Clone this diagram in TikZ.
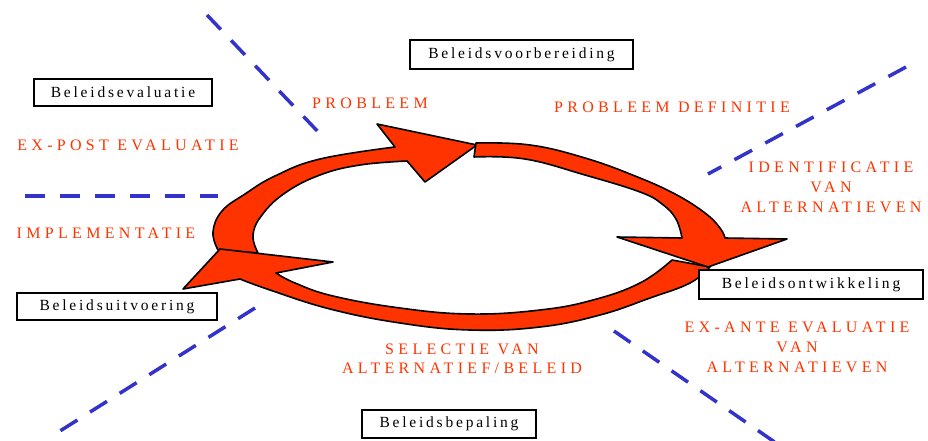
\documentclass[tikz,border=0pt]{standalone}
\usepackage{fontspec}
\setmainfont{Liberation Serif}
\newfontfamily\boxfont[LetterSpace=18]{Liberation Serif}
\newfontfamily\stagefont[LetterSpace=27]{Liberation Serif}
\definecolor{arrowred}{HTML}{FF3300}
\definecolor{dashblue}{HTML}{3333CC}
\tikzset{
  ring/.style={fill=arrowred, draw=black, line width=1.6pt, line join=round},
  phasebox/.style={draw=black, fill=white, line width=1.6pt, inner sep=0pt,
    font=\boxfont\fontsize{15.5}{17}\selectfont, text=black},
  stage/.style={text=arrowred, align=center, inner sep=0pt,
    font=\stagefont\fontsize{16}{20}\selectfont},
  divider/.style={draw=dashblue, line width=3.5pt, dash pattern=on 20pt off 15pt},
}
\begin{document}
\begin{tikzpicture}[x=1pt,y=-1pt]
\useasboundingbox (0,0) rectangle (928,441);

% dashed dividers between the phases
\coordinate (d1a) at (207,15);  \coordinate (d1b) at (323,137);
\coordinate (d2a) at (25,196);  \coordinate (d2b) at (218,196);
\coordinate (d3a) at (60,431);  \coordinate (d3b) at (255,308);
\coordinate (d4a) at (906,67);  \coordinate (d4b) at (708,174);
\coordinate (d5a) at (614,331); \coordinate (d5b) at (776,443);
\draw[divider] (d1a) -- (d1b);
\draw[divider] (d2a) -- (d2b);
\draw[divider] (d3b) -- (d3a);
\draw[divider] (d4a) -- (d4b);
\draw[divider] (d5a) -- (d5b);

% upper-left arrow of the cycle
\draw[ring] plot[smooth, tension=0.7] coordinates {(218,250) (213,232) (222,211) (245,194) (275,176) (320,159) (395,147)}
  -- (377,124) -- (477,145) -- (425,182) -- (407,161)
  -- plot[smooth, tension=0.7] coordinates {(407,161) (360,165) (320,175) (285,193) (262,215) (253,235) (258,253)}
  -- cycle;

% lower arrow of the cycle
\draw[ring] plot[smooth, tension=0.7] coordinates {(672,260) (640,283) (593,300) (540,310) (470,314) (400,308) (333,296) (295,283) (276,273)}
  -- (333,262) -- (220,249) -- (183,289) -- (240,279)
  -- plot[smooth, tension=0.7] coordinates {(240,279) (270,290) (330,309) (400,323) (470,330) (540,327) (600,315) (650,298) (690,283) (710,267)}
  -- cycle;

% upper-right arrow of the cycle
\draw[ring] plot[smooth, tension=0.7] coordinates {(476,143) (530,145) (585,158) (635,176) (675,194) (705,213) (720,228) (725,238)}
  -- (787,239) -- (708,267) -- (617,237) -- (682,238)
  -- plot[smooth, tension=0.7] coordinates {(682,238) (676,219) (662,204) (640,192) (585,175) (525,159) (474,157)}
  -- cycle;

% phase boxes
\node[phasebox, minimum width=223pt, minimum height=29pt] (voorb) at (521.5,54.5) {Beleidsvoorbereiding};
\node[phasebox, minimum width=178pt, minimum height=27pt] (evalu) at (123,92.5) {Beleidsevaluatie};
\node[phasebox, minimum width=200pt, minimum height=27pt] (uitv) at (117,306.5) {Beleidsuitvoering};
\node[phasebox, minimum width=224pt, minimum height=29pt] (ontw) at (811,284.5) {Beleidsontwikkeling};
\node[phasebox, minimum width=174pt, minimum height=28pt] (bepal) at (449,424) {Beleidsbepaling};

% stage labels
\node[stage] (probleem) at (370,103) {PROBLEEM};
\node[stage] (probdef) at (672,107) {PROBLEEM DEFINITIE};
\node[stage] (expost) at (128,145) {EX-POST EVALUATIE};
\node[stage] (ident) at (831,187) {IDENTIFICATIE\\VAN\\ALTERNATIEVEN};
\node[stage] (implem) at (106,233) {IMPLEMENTATIE};
\node[stage] (exante) at (797,347) {EX-ANTE EVALUATIE\\VAN\\ALTERNATIEVEN};
\node[stage, font=\stagefont\fontsize{16}{18.5}\selectfont] (selectie) at (462,359) {SELECTIE VAN\\ALTERNATIEF/BELEID};
\end{tikzpicture}
\end{document}
